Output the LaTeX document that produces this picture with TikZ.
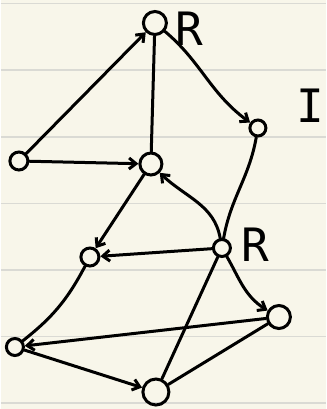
\documentclass[tikz,border=0pt]{standalone}
\usepackage{fontspec}
\newfontfamily\handfont{DejaVu Sans Mono}
\usetikzlibrary{arrows.meta,bending}
\definecolor{paper}{RGB}{248,246,234}
\definecolor{ruleline}{RGB}{218,218,212}

\tikzset{
    vtx/.style={circle, draw, line width=3pt, inner sep=0pt, minimum size=#1},
    link/.style={line width=3pt, line cap=round},
    dirlink/.style={link, -{Straight Barb[length=7pt,width=11pt]}},
    lbl/.style={font=\handfont\fontsize{46}{46}\selectfont, inner sep=0pt},
}

\begin{document}
\begin{tikzpicture}[x=1pt, y=-1pt]

    \begin{scope}
        % paper
        \fill[paper] (0,0) rectangle (325,409);
        \foreach \y in {3.5,70,137,203.5,270,336.5,403}
            \draw[ruleline, line width=1.8pt] (0,\y) -- (325,\y);
        \useasboundingbox (0,0) rectangle (325,409);

        % vertices
        \node[vtx=23pt] (vA) at (154,23) {};
        \node[vtx=18pt] (vB) at (18,161) {};
        \node[vtx=22pt] (vC) at (150,164) {};
        \node[vtx=16pt] (vD) at (257,128) {};
        \node[vtx=18pt] (vE) at (89,257) {};
        \node[vtx=17pt] (vF) at (221,248) {};
        \node[vtx=23pt] (vG) at (278,317) {};
        \node[vtx=17pt] (vH) at (14,347) {};
        \node[vtx=26pt] (vJ) at (155,392) {};

        \node[lbl] (lA) at (188,29) {R};
        \node[lbl] (lF) at (254,245) {R};
        \node[lbl] (lI) at (309,106) {I};

        % edges
        \draw[dirlink] (vB) -- (vA);
        \draw[dirlink] (vB) -- (vC);
        \draw[link] (vA) -- (vC);
        \draw[dirlink] (vA) to[out=-40, in=145] (vD);
        \draw[link] (vD) to[out=-100, in=80] (vF);
        \draw[dirlink] (vC) -- (vE);
        \draw[dirlink, {Straight Barb[length=7pt,width=11pt]}-] (vC) to[out=-45, in=100] (vF);
        \draw[dirlink] (vF) -- (vE);
        \draw[link] (vE) to[bend left=12] (vH);
        \draw[dirlink] (vF) to[out=-60, in=150] (vG);
        \draw[link] (vF) -- (vJ);
        \draw[dirlink] (vG) -- (vH);
        \draw[dirlink] (vH) -- (vJ);
        \draw[link] (vG) -- (vJ);
    \end{scope}

\end{tikzpicture}
\end{document}
